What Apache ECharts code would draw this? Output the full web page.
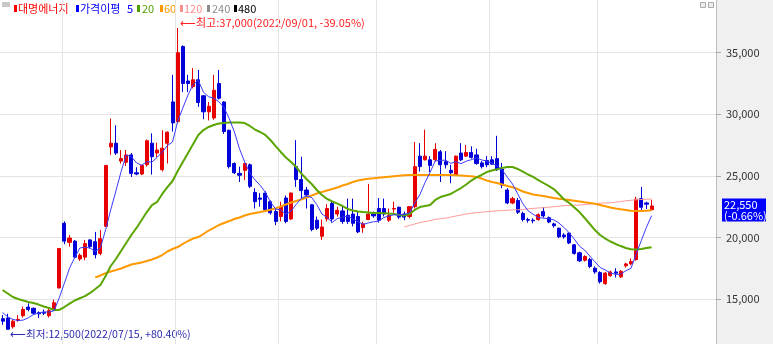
<!DOCTYPE html>
<html><head><meta charset="utf-8">
<script src="https://cdn.jsdelivr.net/npm/echarts/dist/echarts.min.js"></script>
<style>html,body{margin:0;padding:0;background:#fff}#c{width:773px;height:344px}</style>
</head><body><div id="c"></div>
<script>
// ---- data ----
const dates = [
'2022-07-14','2022-07-15','2022-07-18','2022-07-19','2022-07-20','2022-07-21','2022-07-22','2022-07-25','2022-07-26','2022-07-27','2022-07-28','2022-07-29',
'2022-08-01','2022-08-02','2022-08-03','2022-08-04','2022-08-05','2022-08-08','2022-08-09','2022-08-10','2022-08-11','2022-08-12','2022-08-16','2022-08-17','2022-08-18','2022-08-19','2022-08-22','2022-08-23','2022-08-24','2022-08-25','2022-08-26','2022-08-29','2022-08-30','2022-08-31',
'2022-09-01','2022-09-02','2022-09-05','2022-09-06','2022-09-07','2022-09-08','2022-09-13','2022-09-14','2022-09-15','2022-09-16','2022-09-19','2022-09-20','2022-09-21','2022-09-22','2022-09-23','2022-09-26','2022-09-27','2022-09-28','2022-09-29','2022-09-30',
'2022-10-04','2022-10-05','2022-10-06','2022-10-07','2022-10-11','2022-10-12','2022-10-13','2022-10-14','2022-10-17','2022-10-18','2022-10-19','2022-10-20','2022-10-21','2022-10-24','2022-10-25','2022-10-26','2022-10-27','2022-10-28','2022-10-31',
'2022-11-01','2022-11-02','2022-11-03','2022-11-04','2022-11-07','2022-11-08','2022-11-09','2022-11-10','2022-11-11','2022-11-14','2022-11-15','2022-11-16','2022-11-17','2022-11-18','2022-11-21','2022-11-22','2022-11-23','2022-11-24','2022-11-25','2022-11-28','2022-11-29','2022-11-30',
'2022-12-01','2022-12-02','2022-12-05','2022-12-06','2022-12-07','2022-12-08','2022-12-09','2022-12-12','2022-12-13','2022-12-14','2022-12-15','2022-12-16','2022-12-19','2022-12-20','2022-12-21','2022-12-22','2022-12-23','2022-12-26','2022-12-27','2022-12-28','2022-12-29',
'2023-01-02','2023-01-03','2023-01-04','2023-01-05','2023-01-06','2023-01-09','2023-01-10','2023-01-11','2023-01-12','2023-01-13','2023-01-16'
];
const opens = [
13400,13450,12750,13250,13650,14350,14250,13900,13900,13650,
14100,15900,21150,19600,19700,18250,18400,19800,19650,18700,
20900,27350,27650,26200,26100,26700,25250,25150,25900,27650,
26850,25500,27650,31000,29400,35500,32700,32250,32800,31500,
30200,29700,32500,31000,28700,26000,25200,25450,25900,23650,
23200,23600,22900,22100,21700,23200,21500,25750,24700,23850,
22650,21400,20100,21500,22750,21900,22150,21800,21900,21700,
20800,21450,21900,22350,22350,21400,22300,22450,21900,21700,
22500,26600,26300,26300,26300,26950,26150,25450,25100,26850,
26600,26900,26700,26050,26250,26300,26400,25550,23850,22800,
23000,21950,21450,21400,21450,22100,21600,21100,20750,20200,
20350,19400,18750,18150,18200,17500,17150,16250,16900,17200,
16800,17700,17850,18200,23150,22800,22250];
const highs = [
13700,13800,13350,13700,14400,14650,14300,14000,14150,14250,
14950,19100,21300,20200,19800,18700,19800,19850,20450,20600,
25850,29650,29100,27100,27100,26850,25700,25900,27950,28450,
27700,28700,28600,33200,37000,35600,33200,33750,33600,31550,
31000,33200,33600,31050,28750,26100,25750,26050,26000,23990,
23600,23750,23000,22300,22900,23400,23650,27900,26550,24100,
22700,21700,21450,22700,22900,22500,22500,23150,23150,22100,
21270,24350,22100,23200,23150,22350,22900,22500,22100,22550,
27750,27650,28750,26600,27650,27100,27000,25900,26650,27650,
27500,27400,27200,26200,26600,26600,28250,26050,24000,23300,
23200,22100,21600,21550,21950,22450,21700,21200,20800,20350,
20400,19450,18850,18550,18350,17650,17250,17200,17300,17500,
17350,17950,18300,23300,24100,22900,23050];
const lows = [
12900,12500,12600,13150,13500,14000,13700,13450,13700,13500,
14050,15850,19450,19250,18300,18100,18150,19100,18300,18550,
20850,26700,26700,26000,25800,24900,25050,25050,25750,25100,
26500,25350,26000,28600,29250,31800,31800,32100,30600,29600,
29500,29550,31200,28400,25600,25150,24500,24650,24000,22350,
22500,22100,21850,21000,21300,21150,21400,24100,23050,22350,
20500,20600,19800,21300,21200,21700,21100,21100,20900,20350,
20380,21400,21600,21200,21700,21250,22000,21500,21400,21550,
22350,25350,26250,25300,26150,24500,25600,24400,25000,26200,
26550,26400,25900,25600,25700,25900,25400,24000,22700,22700,
21900,21300,21200,21150,21350,21600,21150,20800,19950,19900,
19450,18600,18000,18050,17500,17050,16250,16150,16800,16750,
16700,17550,17750,18100,22100,22300,22200];
const closes = [
13200,12550,13200,13350,14150,14150,13850,13800,13850,14050,
14700,19100,19700,19950,18400,18550,19500,19250,18600,19900,
25850,27650,26850,26400,26700,25200,25150,25850,27850,26550,
27100,27250,28550,29300,35000,32500,32500,32800,30950,30200,
30650,31950,31300,28600,25750,25250,25050,26000,24150,22900,
23100,22250,22000,21300,22500,21300,23600,24700,23800,23450,
20650,20750,20850,22350,21500,22200,21300,21300,21150,20450,
21100,21900,21750,21400,21900,21800,22350,21650,21650,22500,
25750,25750,26600,25850,27150,25900,25900,25250,26600,26300,
26900,26500,26000,25750,25900,25950,25500,24250,22800,23150,
22050,21450,21400,21350,21850,21750,21250,20950,20050,20050,
19550,18700,18100,18450,17650,17200,16400,17100,17200,17100,
17250,17850,18050,23100,22450,22700,22550];
// moving averages
const ma5 = [
13900,13550,13350,13250,13290,13480,13740,13860,13960,13940,
14050,15100,16280,17500,18370,19140,19220,19130,18860,19160,
20620,22250,23770,25330,26690,26560,26060,25860,26150,26120,
26500,26920,27460,27750,29440,30520,31570,32420,32750,31790,
31420,31310,31010,30540,29650,28570,27190,26130,25240,24670,
24240,23680,22880,22310,22230,21870,22140,22680,23180,23370,
23240,22670,21900,21610,21230,21530,21640,21730,21490,21280,
21060,21180,21270,21320,21610,21750,21840,21820,21870,21990,
22780,23460,24450,25290,26220,26250,26280,26010,26160,25990,
26190,26310,26460,26290,26210,26020,25820,25470,24880,24330,
23550,22740,22170,21880,21620,21560,21520,21430,21170,20810,
20370,19860,19290,18970,18490,18020,17560,17360,17110,17000,
17010,17300,17490,18670,19740,20830,21770];
const ma20 = [
15730,15450,15160,15000,14880,14760,14680,14550,14390,14270,
14110,14110,14350,14630,14880,15060,15240,15490,15810,16140,
16870,17680,18250,18900,19550,20200,20770,21410,22060,22630,
22880,23530,24090,24580,25390,26120,26860,27590,28320,28720,
28970,29130,29250,29290,29330,29330,29330,29290,29050,28760,
28560,28320,27910,27420,26940,26490,26120,25720,25190,24740,
24340,23850,23440,23120,22920,22750,22550,22310,22190,22110,
22060,22020,21980,21980,21960,21940,21900,21820,21780,21900,
22230,22470,22550,22630,23040,23280,23400,23530,23770,24010,
24300,24620,24870,25070,25310,25430,25530,25640,25720,25720,
25560,25350,25110,24910,24660,24420,24180,23930,23530,23080,
22800,22430,22060,21580,21090,20600,20200,19910,19670,19470,
19300,19140,19040,19020,19060,19140,19200];
const ma60Start = 18;
const ma60 = [
16750,16910,
17100,17230,17350,17480,17640,17800,17880,17960,18090,18210,
18370,18570,18860,19060,19220,19470,19710,19910,20030,20280,
20560,20770,21010,21170,21330,21500,21620,21780,21900,21980,
22060,22150,22250,22360,22510,22670,22840,22960,23080,23240,
23400,23570,23690,23810,23930,24050,24220,24340,24500,24620,
24700,24760,24800,24850,24890,24930,24970,25010,25040,25070,
25070,25070,25070,25070,25070,25070,25070,25070,25040,25020,
24990,24960,24910,24780,24620,24500,24420,24300,24180,24070,
23930,23730,23610,23490,23420,23360,23280,23200,23140,23100,
23040,22980,22920,22850,22800,22730,22630,22530,22430,22350,
22280,22230,22160,22140,22140,22170,22200];
const ma120Start = 78;
const ma120 = [
20850,20970,
21090,21210,21290,21370,21460,21520,21570,21650,21740,21820,
21900,21960,22010,22050,22090,22130,22160,22180,22210,22230,
22250,22270,22320,22360,22390,22420,22450,22490,22530,22580,
22600,22620,22630,22670,22710,22750,22780,22790,22820,22860,
22920,22970,23020,23060,23080,23100,23120];
const legendItems = [
  {label:'대명에너지', color:'#ff0000', mx:14, tx:18},
  {label:'가격이평', color:'#0000ff', mx:76, tx:80},
  {label:'5', color:'#0000ff', mx:null, tx:127},
  {label:'20', color:'#4f9f00', mx:137, tx:142},
  {label:'60', color:'#ff9900', mx:160, tx:164},
  {label:'120', color:'#ff8c8c', mx:180, tx:184},
  {label:'240', color:'#8c8c8c', mx:207, tx:212},
  {label:'480', color:'#000000', mx:234, tx:238}
];
const highNote = '⟵최고:37,000(2022/09/01, -39.05%)';
const lowNote = '⟵최저:12,500(2022/07/15, +80.40%)';
const lastPrice = '22,550';
const lastChange = '(-0.66%)';

// ---- build ----
const PAD = 12;
const cats = dates.concat(Array(PAD).fill(''));
const candleData = dates.map((d, i) => [opens[i], closes[i], lows[i], highs[i]]);
function padStart(arr, start) { return Array(start).fill(null).concat(arr); }
const FONT = "'Noto Sans CJK KR','Noto Sans',sans-serif";

const graphic = [
  {type:'rect', shape:{x:2, y:2, width:8, height:5}, style:{fill:'#c8c8c8'}},
  {type:'rect', shape:{x:700.5, y:2.5, width:5, height:5}, style:{fill:'#eee', stroke:'#aaa', lineWidth:1}},
  {type:'rect', shape:{x:708.5, y:2.5, width:5, height:5}, style:{fill:'#eee', stroke:'#aaa', lineWidth:1}},
  {type:'text', x:180, y:22.5, style:{text:highNote, fill:'#ff2020', font:'11px ' + FONT, verticalAlign:'middle'}},
  {type:'text', x:10, y:334, style:{text:lowNote, fill:'#2a2ab0', font:'10.6px ' + FONT, verticalAlign:'middle'}},
  {type:'rect', shape:{x:722, y:198.5, width:44, height:23}, style:{fill:'#0000ff'}},
  {type:'text', x:724, y:204.5, style:{text:lastPrice, fill:'#fff', font:'11px ' + FONT, verticalAlign:'middle'}},
  {type:'text', x:724, y:215.5, style:{text:lastChange, fill:'#fff', font:'11px ' + FONT, verticalAlign:'middle'}}
];
legendItems.forEach(it => {
  if (it.mx !== null) graphic.push({type:'rect', shape:{x:it.mx, y:5, width:3, height:7}, style:{fill:it.color}});
  graphic.push({type:'text', x:it.tx, y:8.5, style:{text:it.label, fill:it.color, font:'11px ' + FONT, verticalAlign:'middle'}});
});

const chart = echarts.init(document.getElementById('c'), null, {renderer:'canvas'});
chart.setOption({
  animation: false,
  backgroundColor: '#f0f0f0',
  grid: {left:0, right:57, top:-8.9, height:369.5, show:true, backgroundColor:'#ffffff', borderWidth:0,
         containLabel:false, outerBoundsMode:'none'},
  xAxis: {
    type:'category', data:cats, boundaryGap:true,
    axisLine:{show:false}, axisTick:{show:false}, axisLabel:{show:false},
    splitLine:{show:true, interval:(idx) => idx > 0 && idx < dates.length && dates[idx].slice(0,7) !== dates[idx-1].slice(0,7),
      lineStyle:{color:'#e4e4e4', width:1}}
  },
  yAxis: {
    type:'value', position:'right', min:10000, max:40000, interval:5000, scale:false,
    axisLine:{show:true, lineStyle:{color:'#bdbdbd'}},
    axisTick:{show:true, length:5, lineStyle:{color:'#aaa'}},
    axisLabel:{margin:10, color:'#333', fontSize:11, fontFamily:FONT, showMinLabel:false, showMaxLabel:false,
               formatter:v => v.toLocaleString('en-US')},
    splitLine:{show:true, lineStyle:{color:'#e4e4e4'}}
  },
  series: [
    {type:'candlestick', data:candleData, barWidth:3.6,
     itemStyle:{color:'#e80000', color0:'#0000d8', borderColor:'#e80000', borderColor0:'#0000d8', borderWidth:1}},
    {type:'line', data:padStart(ma120, ma120Start), symbol:'none', z:3, lineStyle:{color:'#ff9a9a', width:1}},
    {type:'line', data:padStart(ma60, ma60Start), symbol:'none', z:3, lineStyle:{color:'#ff9900', width:2}},
    {type:'line', data:ma20, symbol:'none', z:3, lineStyle:{color:'#5aa500', width:2}},
    {type:'line', data:ma5, symbol:'none', z:4, lineStyle:{color:'#3a3aff', width:1}}
  ],
  graphic: graphic
});
</script></body></html>
